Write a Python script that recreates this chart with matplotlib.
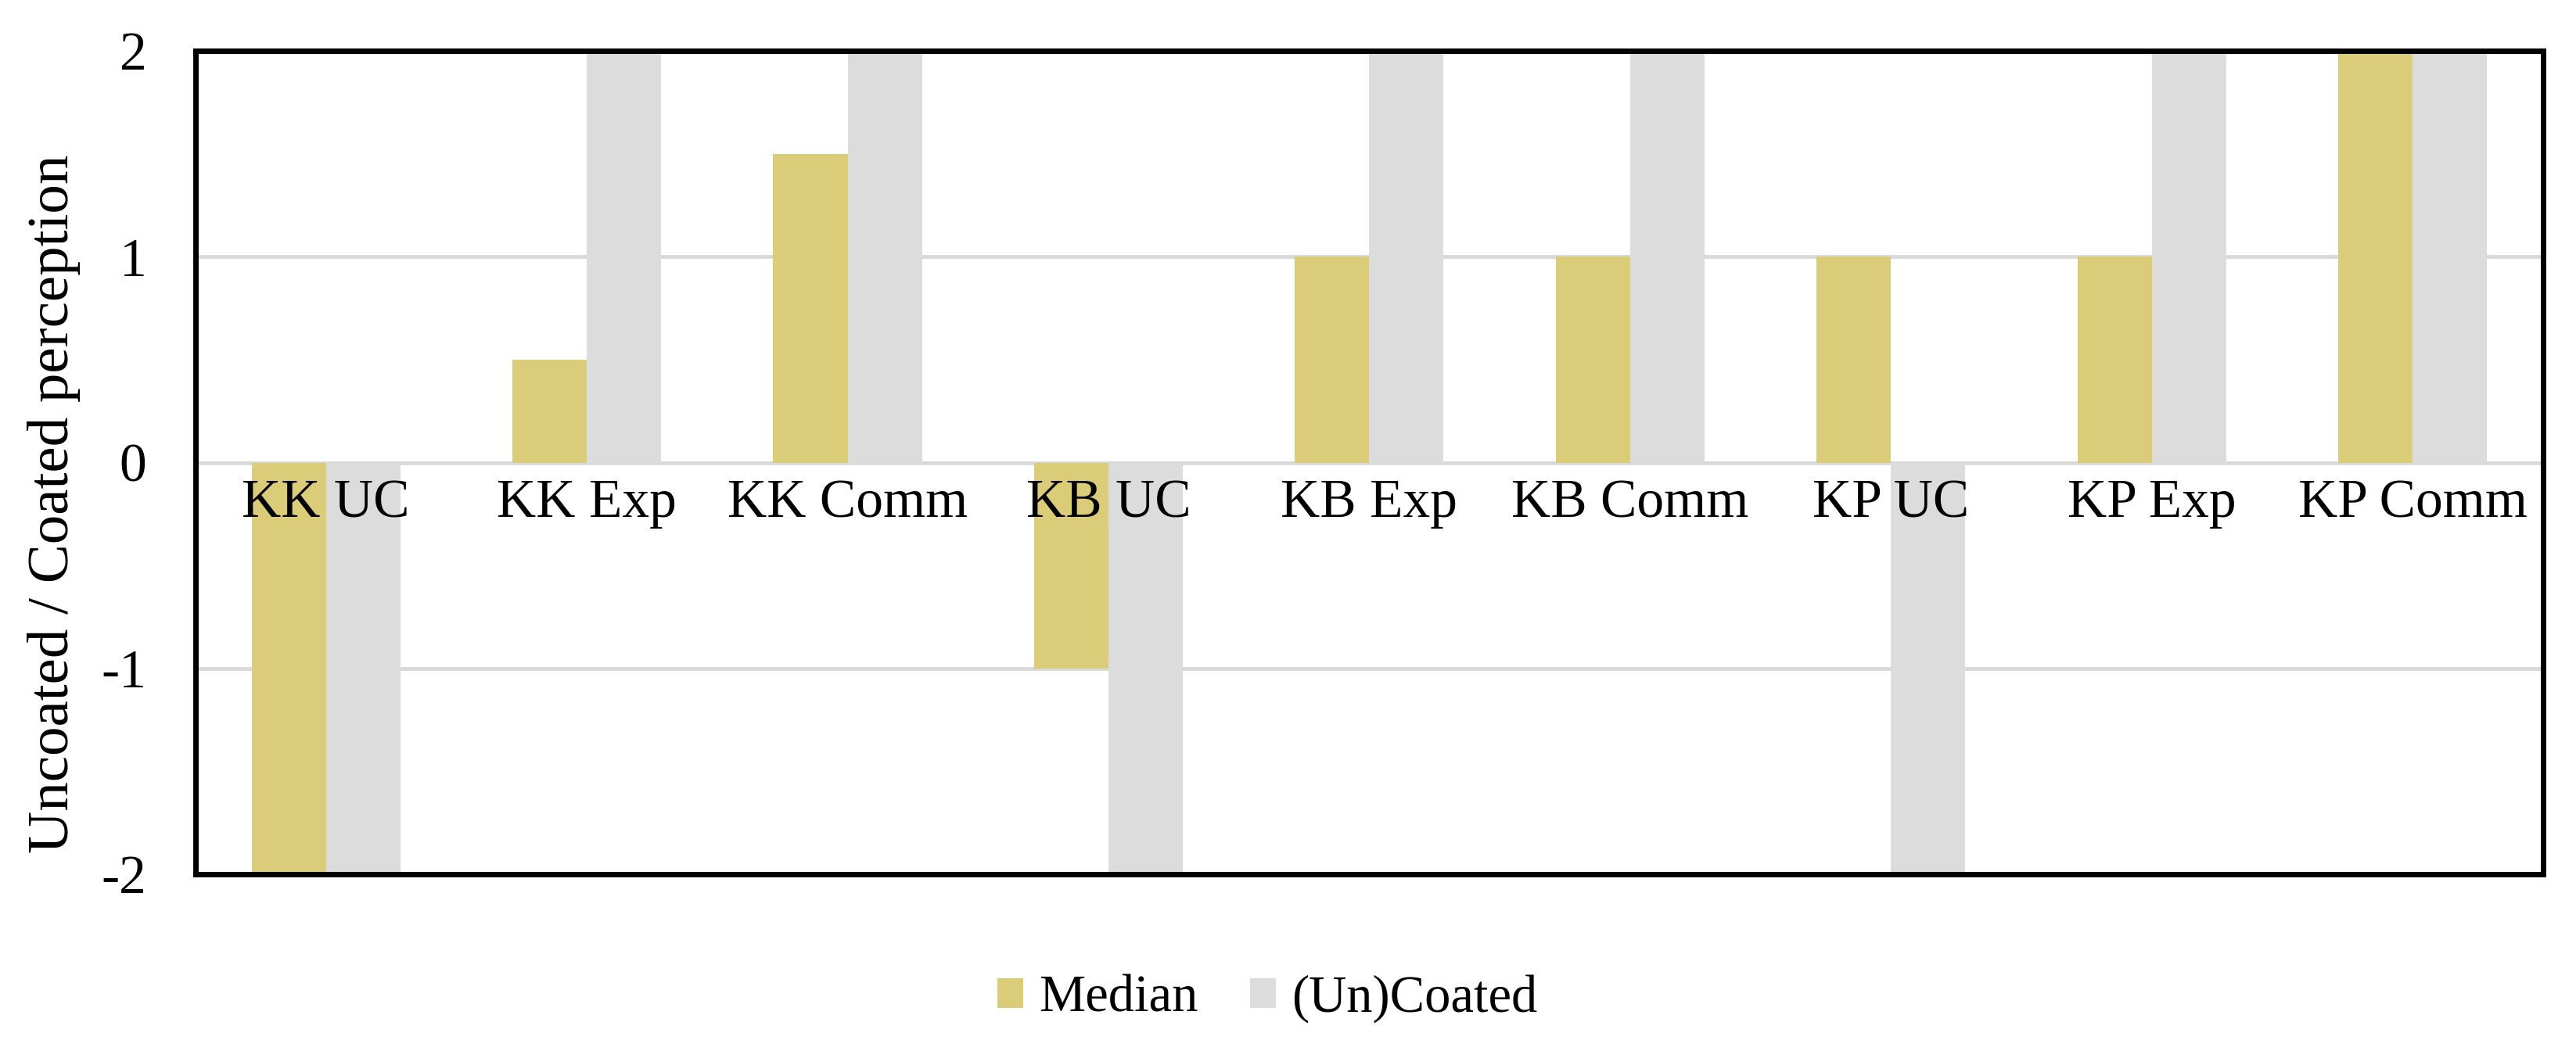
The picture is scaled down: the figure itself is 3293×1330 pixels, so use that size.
import numpy as np
import matplotlib
matplotlib.use('Agg')
import matplotlib.pyplot as plt

plt.rcParams['font.family'] = ['Liberation Serif', 'DejaVu Serif']

categories = ['KK UC', 'KK Exp', 'KK Comm', 'KB UC', 'KB Exp', 'KB Comm',
              'KP UC', 'KP Exp', 'KP Comm']
median = [-2, 0.5, 1.5, -1, 1, 1, 1, 1, 2]
uncoated = [-2, 2, 2, -2, 2, 2, -2, 2, 2]

gold = '#dbcc7a'
grey = '#dcdcdc'

fig = plt.figure(figsize=(32.93, 13.30), dpi=100)
ax = fig.add_axes([0.0759, 0.1594, 0.9113, 0.7917])

x = np.arange(len(categories))
w = 0.285
ax.bar(x - w / 2, median, width=w, color=gold, label='Median', zorder=2)
ax.bar(x + w / 2, uncoated, width=w, color=grey, label='(Un)Coated', zorder=2)

ax.set_xlim(-0.5, len(categories) - 0.5)
ax.set_ylim(-2, 2)
ax.set_yticks([-2, -1, 0, 1, 2])
ax.set_yticklabels(['-2', '-1', '0', '1', '2'], fontsize=50)
ax.tick_params(axis='y', length=0, pad=45)
ax.set_xticks([])
# category names sit just under the zero line, inside the frame
for xi, lab in zip(x, categories):
    ax.text(xi, -0.08, lab, ha='center', va='top', fontsize=50, zorder=3)

for yv in [-1, 0, 1]:
    ax.axhline(yv, color='#d9d9d9', lw=3.5, zorder=1)

for s in ax.spines.values():
    s.set_linewidth(5)
    s.set_color('black')
    s.set_zorder(4)

ax.set_ylabel('Uncoated / Coated perception', fontsize=54)
ax.yaxis.set_label_coords(-0.049, 0.45)

fig.legend(loc='center', bbox_to_anchor=(0.492, 0.04), ncol=2, frameon=False,
           fontsize=48, handlelength=0.5, handleheight=0.5, columnspacing=1.0,
           handletextpad=0.3)

fig.savefig('out.png', dpi=100)
